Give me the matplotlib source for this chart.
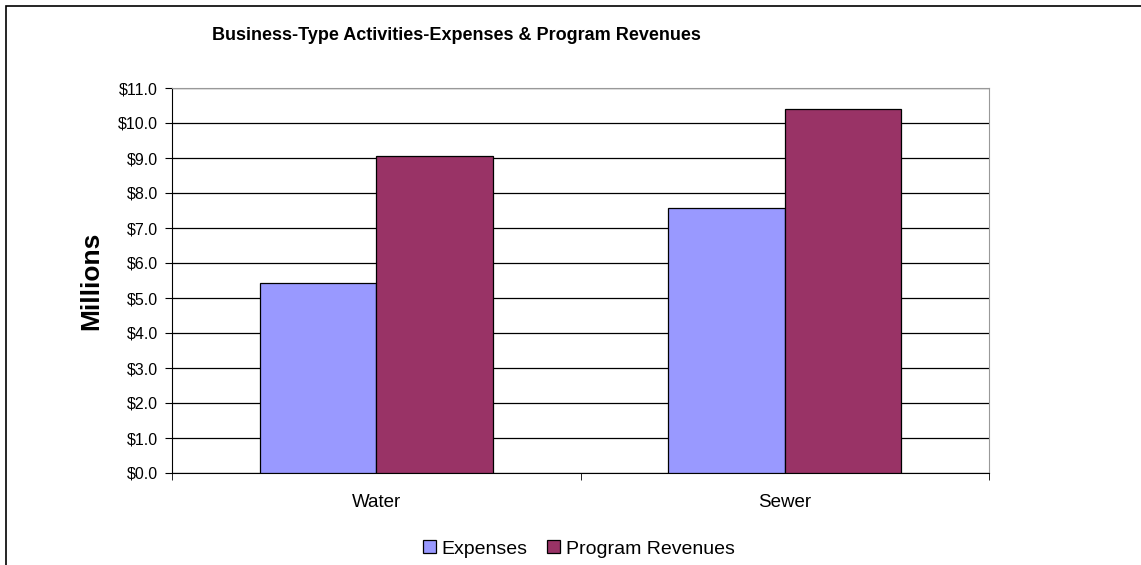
import numpy as np
import matplotlib.pyplot as plt
from matplotlib.patches import Rectangle
from matplotlib.ticker import FuncFormatter

plt.rcParams["font.family"] = ["Liberation Sans", "DejaVu Sans"]

# ── data ──────────────────────────────────────────────────────
categories = ["Water", "Sewer"]
expenses   = [5.42, 7.58]
revenues   = [9.07, 10.40]
series     = ["Expenses", "Program Revenues"]
colors     = ["#9999FF", "#993366"]

W, H = 1141, 565
fig = plt.figure(figsize=(W / 100, H / 100), dpi=100)

# outer chart frame (right/bottom edges fall outside the picture)
fig.add_artist(Rectangle((6 / W, -0.1), 1.2, (H - 6) / H + 0.1,
                         transform=fig.transFigure, fill=False,
                         edgecolor="black", linewidth=1.2))

ax = fig.add_axes([172 / W, 1 - 473 / H, (989 - 172) / W, (473 - 88) / H])

x = np.arange(len(categories))
w = 1 / 3.5
for j, (vals, name, col) in enumerate(zip([expenses, revenues], series, colors)):
    ax.bar(x + (j - 0.5) * w, vals, width=w, color=col, edgecolor="black",
           linewidth=0.9, label=name, zorder=3)

ax.set_xlim(-0.5, len(categories) - 0.5)
ax.set_ylim(0, 11)
ax.set_yticks(np.arange(0, 11.5, 1.0))
ax.yaxis.set_major_formatter(FuncFormatter(lambda v, _: f"${v:.1f}"))
ax.set_xticks(x)
ax.set_xticklabels(categories, fontsize=13.5)
ax.set_xticks([-0.5, 0.5, 1.5], minor=True)
ax.tick_params(axis="x", which="major", length=0, pad=15)
ax.tick_params(axis="x", which="minor", length=5, direction="out")
ax.tick_params(axis="y", length=5, direction="out", labelsize=11.5, pad=5)
ax.grid(axis="y", color="black", linewidth=0.9, zorder=0)

for side in ("top", "right"):
    ax.spines[side].set_color("#999999")
for side in ("left", "bottom"):
    ax.spines[side].set_color("black")

ax.set_ylabel("Millions", fontsize=19, fontweight="bold", labelpad=11)

fig.text(456 / W, 1 - 35 / H, "Business-Type Activities-Expenses & Program Revenues",
         ha="center", va="center", fontsize=13, fontweight="bold")

fig.legend(loc="center", bbox_to_anchor=(579 / W, 1 - 549 / H), ncol=2,
           frameon=False, fontsize=14, handlelength=0.65, handleheight=0.65,
           handletextpad=0.3, columnspacing=1.0)

plt.savefig("out.png", dpi=100)
